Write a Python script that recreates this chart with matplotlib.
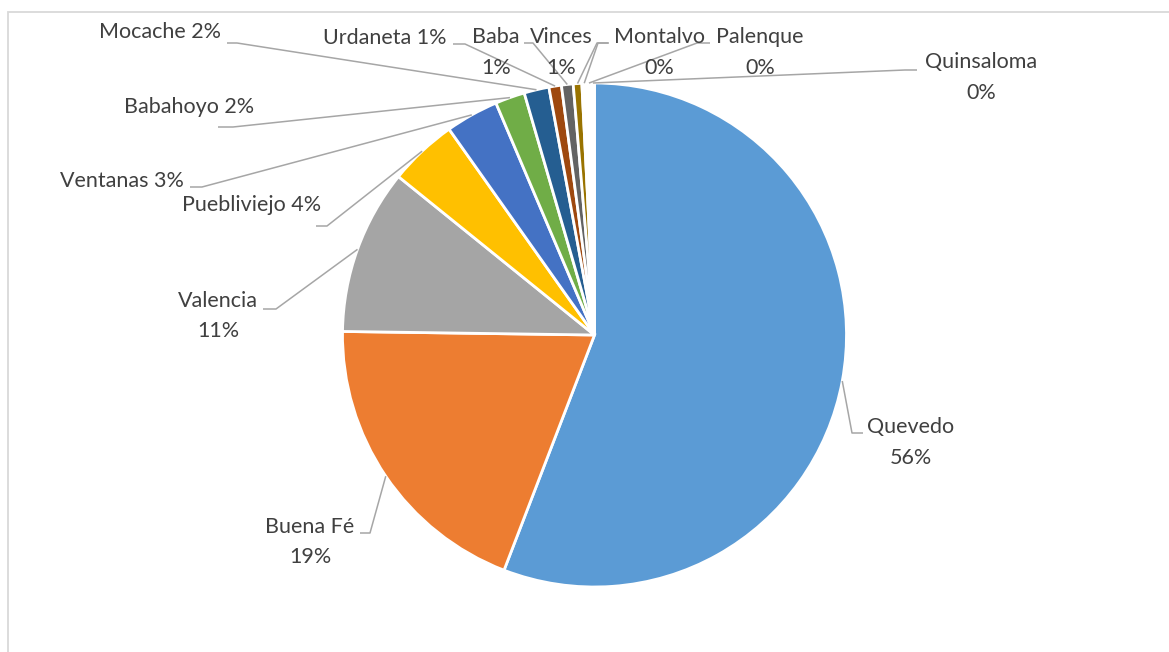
import matplotlib
matplotlib.use("Agg")
import matplotlib.pyplot as plt
import numpy as np
from matplotlib.patches import Rectangle

W, H = 1169, 652

categories = ["Quevedo", "Buena Fé", "Valencia", "Puebliviejo", "Ventanas", "Babahoyo",
              "Mocache", "Urdaneta", "Baba", "Vinces", "Montalvo", "Palenque", "Quinsaloma"]
values = [55.9, 19.4, 10.6, 4.4, 3.4, 1.9, 1.6, 0.8, 0.75, 0.55, 0.3, 0.3, 0.2]
colors = ["#5B9BD5", "#ED7D31", "#A5A5A5", "#FFC000", "#4472C4", "#70AD47",
          "#255E91", "#9E480E", "#636363", "#997300", "#FFFFFF", "#FFFFFF", "#FFFFFF"]

# label layout (pixel coords, y from top): text centre, two-line flag, leader line points
label_pos = [(911, 442.5), (310, 542), (218, 316), (252, 205), (122, 181), (189, 107),
             (160, 32), (385, 38), (496, 52.5), (561, 52.5), (659, 52.5), (760, 52.5), (981, 77.5)]
two_line = [True, True, True, False, False, False, False, False, True, True, True, True, True]
leader = [[(863, 433), (852, 433)], [(360, 533), (370, 533)], [(263, 309), (276, 309)],
          [(316, 226), (327, 226)], [(190, 187), (202, 187)], [(218, 127), (233, 127)],
          [(227, 43), (237, 43)], [(453, 44), (465, 44)], [(524, 43), (533, 43)],
          [(608, 43), (597, 43)], [(609, 43), (598, 43)], [(710, 43), (697, 43)],
          [(917, 70), (905, 70)]]

CX, CY, R = 594.5, 335, 252

fig = plt.figure(figsize=(W / 100, H / 100), dpi=100)
ax = fig.add_axes([0, 0, 1, 1])

def Y(y):
    return H - y

wedges, _ = ax.pie(values, colors=colors, startangle=90, counterclock=False,
                   center=(CX, Y(CY)), radius=R,
                   wedgeprops=dict(edgecolor="white", linewidth=2.0))
ax.set_xlim(0, W)
ax.set_ylim(0, H)
ax.set_aspect("equal")
ax.axis("off")

total = sum(values)
txtcol = "#404040"
linecol = "#A6A6A6"
font = "Lato"
for i, (cat, v) in enumerate(zip(categories, values)):
    pct = f"{round(v / total * 100):.0f}%"
    sep = "\n" if two_line[i] else " "
    x, y = label_pos[i]
    ax.text(x, Y(y), f"{cat}{sep}{pct}", ha="center", va="center", fontsize=15.5,
            color=txtcol, family=font, linespacing=1.68)
    w = wedges[i]
    mid = np.deg2rad((w.theta1 + w.theta2) / 2)
    ax_x = CX + R * np.cos(mid)
    ax_y = Y(CY) + R * np.sin(mid)
    pts = leader[i]
    xs = [p[0] for p in pts] + [ax_x]
    ys = [Y(p[1]) for p in pts] + [ax_y]
    ax.plot(xs, ys, color=linecol, lw=1.1, solid_capstyle="butt")

fig.patches.append(Rectangle((7.5 / W, -0.1), 1.2, 1.1 - 11.5 / H,
                             transform=fig.transFigure, fill=False,
                             edgecolor="#D9D9D9", linewidth=1.3))

fig.savefig("out.png", dpi=100, facecolor="white")
